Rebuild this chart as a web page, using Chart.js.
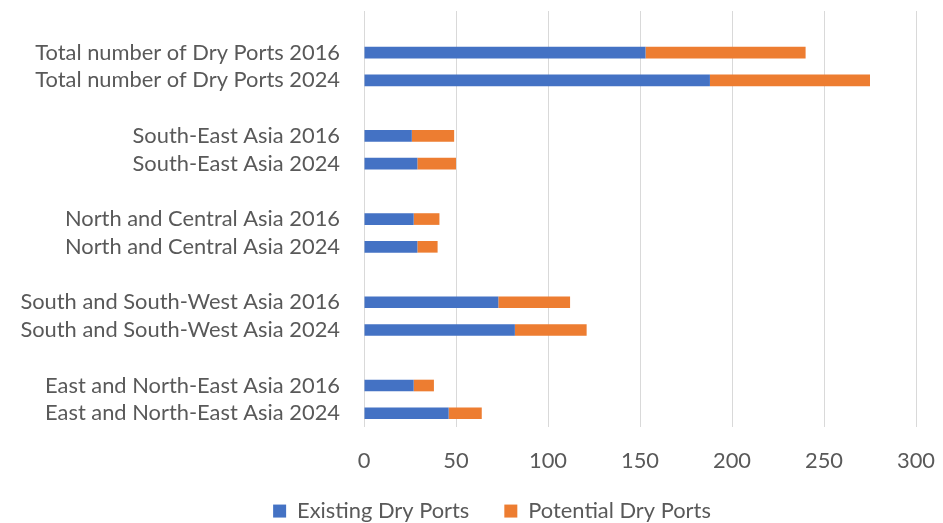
<!DOCTYPE html>
<html><head><meta charset="utf-8">
<script src="https://cdn.jsdelivr.net/npm/chart.js@4/dist/chart.umd.min.js"></script>
<style>html,body{margin:0;padding:0;background:#fff;} #wrap{width:943px;height:523px;position:relative;}</style>
</head><body><div id="wrap"><canvas id="c" width="943" height="523"></canvas></div>
<script>
const categories = ['', 'Total number of Dry Ports 2016', 'Total number of Dry Ports 2024', '',
  'South-East Asia 2016', 'South-East Asia 2024', '',
  'North and Central Asia 2016', 'North and Central Asia 2024', '',
  'South and South-West Asia 2016', 'South and South-West Asia 2024', '',
  'East and North-East Asia 2016', 'East and North-East Asia 2024'];
const existingDryPorts  = [null, 153, 188, null, 26, 29, null, 27, 29, null, 73, 82, null, 27, 46];
const potentialDryPorts = [null, 87, 87, null, 23, 21, null, 14, 11, null, 39, 39, null, 11, 18];
const seriesNames = ['Existing Dry Ports', 'Potential Dry Ports'];
const xTickValues = [0, 50, 100, 150, 200, 250, 300];

const FAMILY = 'Lato, "Open Sans", sans-serif';
const mctx = document.createElement('canvas').getContext('2d');
mctx.font = '20px ' + FAMILY;
let fs = 20 * 305 / mctx.measureText('Total number of Dry Ports 2016').width;
fs = Math.max(16, Math.min(22, fs));
const font = { family: FAMILY, size: fs };
const TEXT = '#595959';

const legendShift = {
  id: 'legendShift',
  afterLayout(chart) {
    const lg = chart.legend;
    if (!lg) return;
    lg.left += 34; lg.right += 34;
    lg.top -= 11; lg.bottom -= 11;
  }
};

new Chart(document.getElementById('c'), {
  type: 'bar',
  data: {
    labels: categories,
    datasets: [
      { label: seriesNames[0], data: existingDryPorts, backgroundColor: '#4472C4', borderWidth: 0 },
      { label: seriesNames[1], data: potentialDryPorts, backgroundColor: '#ED7D31', borderWidth: 0 }
    ]
  },
  plugins: [legendShift],
  options: {
    indexAxis: 'y',
    responsive: false,
    animation: false,
    maintainAspectRatio: false,
    layout: { padding: { top: 11, right: 27, bottom: -20, left: 0 } },
    datasets: { bar: { categoryPercentage: 1, barPercentage: 0.42 } },
    scales: {
      x: {
        stacked: true, min: 0, max: 300,
        afterBuildTicks: s => { s.ticks = xTickValues.map(v => ({ value: v })); },
        grid: { color: '#d9d9d9', lineWidth: 1, drawTicks: false },
        border: { display: false },
        ticks: { font, color: TEXT, padding: 21 },
        afterFit: s => { s.height = 49; s.paddingLeft = 0; s.paddingRight = 0; }
      },
      y: {
        stacked: true,
        grid: { display: false, drawTicks: false },
        border: { display: false },
        ticks: { font, color: TEXT, padding: 24, autoSkip: false },
        afterFit: s => { s.width = 364; s.paddingTop = 0; s.paddingBottom = 0; }
      }
    },
    plugins: {
      tooltip: { enabled: false },
      legend: {
        position: 'bottom',
        labels: { font, color: TEXT, boxWidth: 13, boxHeight: 13, padding: 35 }
      }
    }
  }
});
</script></body></html>
